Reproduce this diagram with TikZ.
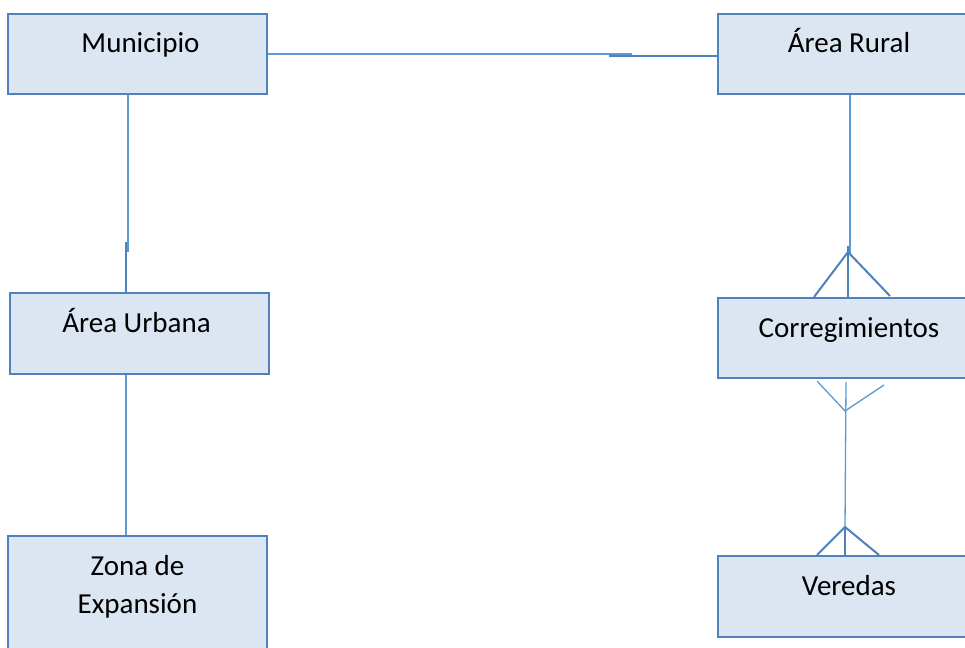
\documentclass[tikz,border=0pt]{standalone}
\usepackage{fontspec}
\setmainfont{Carlito}
\usetikzlibrary{calc}
\definecolor{boxfill}{HTML}{DCE6F2}
\definecolor{boxline}{HTML}{4F81BD}
\definecolor{linklight}{HTML}{5B9BD5}

\tikzset{
  entity/.style={draw=boxline, line width=2pt, fill=boxfill, rectangle, inner sep=0pt,
    anchor=north, align=center, text height=39pt, text depth=41pt,
    font=\fontsize{29}{38}\selectfont},
  link/.style={draw=linklight, line width=1.3pt},
  foot/.style={draw=boxline, line width=2pt}
}

\begin{document}
\begin{tikzpicture}[x=1pt,y=-1pt]
			\clip (0,0) rectangle (965,647);
			\fill[white] (0,0) rectangle (965,647);

			\node[entity, minimum width=259pt] (muni) at (137.5,13) {\hspace*{6pt}Municipio};
			\node[entity, minimum width=262pt] (rural) at (849,13) {Área Rural};
			\node[entity, minimum width=259pt, text depth=42pt] (urb) at (139.5,292) {Área Urbana\hspace*{6pt}};
			\node[entity, minimum width=262pt] (corr) at (849,297) {Corregimientos};
			\node[entity, minimum width=259pt, text height=77pt] (zona) at (137.5,535) {Zona de\\Expansión};
			\node[entity, minimum width=262pt, text depth=42pt] (ver) at (849,555) {Veredas};

			% municipio - area rural
			\draw[link] (muni.east) -- ($(muni.east)!0.81!(rural.west)$);
			\draw[foot] ($(muni.east)!0.76!(rural.west)+(0,2.5)$) -- ($(rural.west)+(0,2.5)$);

			% municipio - area urbana - zona de expansion
			\draw[link] ($(muni.south)+(-9.5,0)$) -- ($(urb.north)+(-11.5,-40)$);
			\draw[foot] ($(urb.north)+(-13.5,-50)$) -- ($(urb.north)+(-13.5,0)$);
			\draw[link] ($(urb.south)+(-13.5,0)$) -- ($(zona.north)+(-11.5,0)$);

			% area rural - corregimientos
			\draw[link] ($(rural.south)+(1,0)$) -- ($(corr.north)+(1,-42)$);
			\draw[foot] ($(corr.north)+(-1,-51)$) -- ($(corr.north)+(-1,0)$);
			\draw[foot] ($(corr.north)+(-35,0)$) -- ($(corr.north)+(-1,-45)$) -- ($(corr.north)+(41,-1)$);

			% corregimientos - veredas
			\draw[link] ($(corr.south)+(-32,2)$) -- ($(corr.south)+(-4,32)$) -- ($(corr.south)+(35,6)$);
			\draw[link] ($(corr.south)+(-3,3)$) -- ($(ver.north)+(-4,-28)$);
			\draw[foot] ($(ver.north)+(-32,0)$) -- ($(ver.north)+(-4,-28)$) -- ($(ver.north)+(30,0)$);
			\draw[foot] ($(ver.north)+(-4,-28)$) -- ($(ver.north)+(-4,0)$);
		\end{tikzpicture}
\end{document}
